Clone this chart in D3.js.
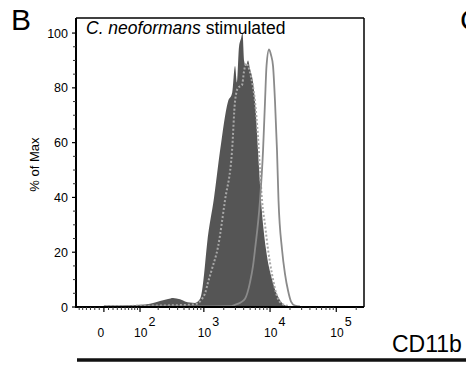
<!DOCTYPE html>
<html>
<head>
<meta charset="utf-8">
<script src="https://cdn.jsdelivr.net/npm/d3@7"></script>
<style>
  body { margin: 0; background: #fff; }
  svg { display: block; font-family: "Liberation Sans", Arial, sans-serif; }
</style>
</head>
<body>
<svg id="chart"></svg>
<script>
const width = 466, height = 371;
const margin = { top: 18, right: 102, bottom: 64, left: 76 };
const plotWidth = width - margin.left - margin.right;
const plotHeight = height - margin.top - margin.bottom;

// Unstimulated / control histogram (filled), fluorescence vs % of max
const ctrlX = [0, 37, 100, 148, 214, 285, 340, 435, 519, 618, 736, 877, 940, 1008, 1118, 1427, 1757, 2320, 2666, 2959,
  3172, 3401, 3646, 3841, 4047, 4337, 4650, 4984, 5532, 5930, 6583, 7307, 8693, 10710, 14144, 17420, 20020, 28340];
const ctrlY = [0.5, 0.5, 0.8, 1.2, 2.2, 2.9, 3.3, 2.8, 2.0, 1.6, 1.5, 3, 6, 12, 23, 40, 57, 75, 78, 88,
  82, 95, 98, 100, 90, 88, 90, 87, 82, 75, 57, 39, 21, 10, 2.5, 0.5, 0.2, 0];

// Dotted histogram
const dotX = [0, 148, 435, 736, 940, 1043, 1158, 1331, 1640, 2090, 2666, 2959, 3285, 3775, 4047, 4337, 4650, 5160,
  5930, 6583, 7057, 7566, 8396, 9319, 10710, 13190, 15700, 20020];
const dotY = [0.3, 0.5, 0.7, 1, 3, 5, 9, 14, 22, 39, 57, 75, 80, 81, 86, 89, 88, 84,
  75, 62, 50, 39, 30, 21, 12, 3, 1, 0.3];

// Solid line histogram
const solidX = [0, 877, 2487, 2959, 3521, 4189, 4984, 5532, 5930, 7057, 7833, 8396, 8846, 9649, 10344, 11089, 11883,
  12740, 13420, 15160, 16830, 18680, 20730, 23820, 28340];
const solidY = [0.2, 0.2, 0.3, 0.8, 1.5, 3, 9, 15, 21, 39, 57, 75, 88, 94, 92, 88, 75,
  57, 39, 21, 12, 6, 2, 0.5, 0.2];

// Axis ticks
const yMajor = [0, 20, 40, 60, 80, 100];
const yMinor = [5, 10, 15, 25, 30, 35, 45, 50, 55, 65, 70, 75, 85, 90, 95];
const xMajor = [0, 100, 1000, 10000, 100000];
const xLabels = ["0", "2", "3", "4", "5"];
const xMinor = [-60, -50, -40, -30, -20, -10, 10, 20, 30, 40, 50, 60, 70, 80, 90,
  200, 300, 400, 500, 600, 700, 800, 900,
  2000, 3000, 4000, 5000, 6000, 7000, 8000, 9000,
  20000, 30000, 40000, 50000, 60000, 70000, 80000, 90000, 200000];

// biexponential-like display transform
const cofactor = 62;
const T = v => Math.asinh(v / cofactor) / Math.LN10;

const svg = d3.select("#chart").attr("width", width).attr("height", height);

const xScale = d3.scaleLinear().domain([T(-70), T(262144)]).range([0, plotWidth]);
const X = v => xScale(T(v));
const yScale = d3.scaleLinear().domain([0, 105.5]).range([plotHeight, 0]);

const g = svg.append("g").attr("transform", `translate(${margin.left},${margin.top})`);

g.append("defs").append("clipPath").attr("id", "clip")
  .append("rect").attr("width", plotWidth).attr("height", plotHeight);

const plot = g.append("g").attr("clip-path", "url(#clip)");

const zip = (xs, ys) => xs.map((x, i) => ({ x, y: ys[i] }));

const area = d3.area()
  .x(d => X(d.x)).y0(plotHeight).y1(d => yScale(d.y))
  .curve(d3.curveMonotoneX);
const line = d3.line()
  .x(d => X(d.x)).y(d => yScale(d.y))
  .curve(d3.curveMonotoneX);

plot.append("path")
  .attr("d", area(zip(ctrlX, ctrlY)))
  .attr("fill", "#555");

plot.append("path")
  .attr("d", line(zip(dotX, dotY)))
  .attr("fill", "none")
  .attr("stroke", "#a8a8a8")
  .attr("stroke-width", 2)
  .attr("stroke-dasharray", "2,2");

plot.append("path")
  .attr("d", line(zip(solidX, solidY)))
  .attr("fill", "none")
  .attr("stroke", "#8a8a8a")
  .attr("stroke-width", 1.8);

// frame
g.append("line").attr("x1", 0).attr("x2", plotWidth).attr("y1", 0).attr("y2", 0)
  .attr("stroke", "#000").attr("stroke-width", 1.5);
g.append("line").attr("x1", plotWidth).attr("x2", plotWidth).attr("y1", 0).attr("y2", plotHeight)
  .attr("stroke", "#000").attr("stroke-width", 1.5);

// y axis
g.append("line").attr("x1", 0).attr("x2", 0).attr("y1", 0).attr("y2", plotHeight + 1)
  .attr("stroke", "#000").attr("stroke-width", 2);
g.selectAll(".ymin").data(yMinor).enter().append("line")
  .attr("x1", -3).attr("x2", 0)
  .attr("y1", d => yScale(d)).attr("y2", d => yScale(d))
  .attr("stroke", "#333").attr("stroke-width", 1);
g.selectAll(".ymaj").data(yMajor).enter().append("line")
  .attr("x1", -4).attr("x2", 0)
  .attr("y1", d => yScale(d)).attr("y2", d => yScale(d))
  .attr("stroke", "#000").attr("stroke-width", 1.2);
g.selectAll(".ylab").data(yMajor).enter().append("text")
  .attr("x", -8).attr("y", d => yScale(d) + 4.5)
  .attr("text-anchor", "end")
  .attr("font-size", "12.5px")
  .text(d => d);

g.append("text")
  .attr("text-anchor", "middle")
  .attr("transform", `translate(-37,${yScale(52)})rotate(-90)`)
  .attr("font-size", "13px")
  .text("% of Max");

// x axis
g.append("line").attr("x1", -1).attr("x2", plotWidth).attr("y1", plotHeight).attr("y2", plotHeight)
  .attr("stroke", "#000").attr("stroke-width", 2);
g.selectAll(".xmin").data(xMinor).enter().append("line")
  .attr("x1", d => X(d)).attr("x2", d => X(d))
  .attr("y1", plotHeight).attr("y2", plotHeight + 3)
  .attr("stroke", "#333").attr("stroke-width", 1);
g.selectAll(".xmaj").data(xMajor).enter().append("line")
  .attr("x1", d => X(d)).attr("x2", d => X(d))
  .attr("y1", plotHeight).attr("y2", plotHeight + 5)
  .attr("stroke", "#000").attr("stroke-width", 1.2);

const xl = g.selectAll(".xlab").data(xMajor).enter().append("text")
  .attr("x", d => X(d))
  .attr("y", plotHeight + 30)
  .attr("text-anchor", "middle")
  .attr("font-size", "12px");
xl.filter(d => d === 0).attr("x", d => X(d) - 3).text("0");
xl.filter(d => d !== 0).each(function(d) {
  const t = d3.select(this);
  t.append("tspan").text("10");
  t.append("tspan").attr("dy", -11).attr("dx", 1).attr("font-size", "12.5px")
    .text(xLabels[xMajor.indexOf(d)]);
  t.attr("text-anchor", "start").attr("x", X(d) - 6);
});

// title inside plot
const title = g.append("text").attr("x", 10).attr("y", 15.5).attr("font-size", "17.5px");
title.append("tspan").attr("font-style", "italic").text("C. neoformans");
title.append("tspan").text(" stimulated");

// panel letters and axis name
svg.append("text").attr("x", 11).attr("y", 30).attr("font-size", "30px").text("B");
svg.append("text").attr("x", 460).attr("y", 30).attr("font-size", "30px").text("C");
svg.append("text").attr("x", 392).attr("y", 352).attr("font-size", "23px").text("CD11b");
svg.append("line").attr("x1", 77).attr("x2", width).attr("y1", 360).attr("y2", 360)
  .attr("stroke", "#111").attr("stroke-width", 3.5);
</script>
</body>
</html>
